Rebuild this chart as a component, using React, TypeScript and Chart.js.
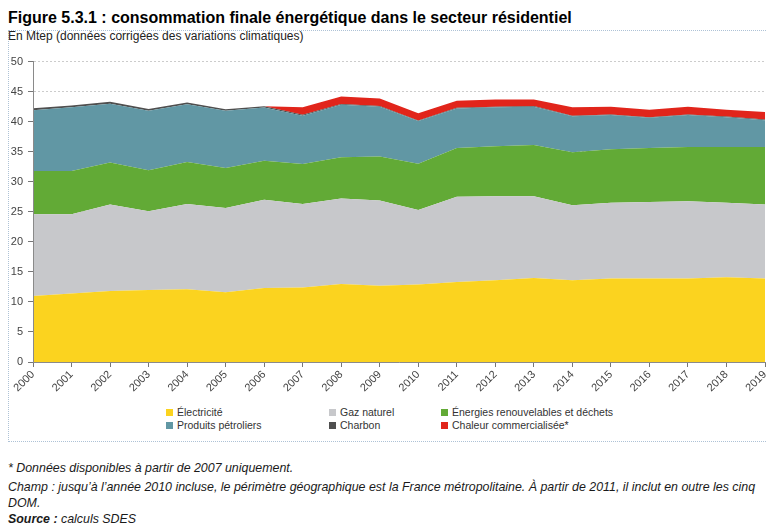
import React, { useEffect, useRef } from "react";
import { Chart, registerables } from "chart.js";

Chart.register(...registerables);

const years = ["2000", "2001", "2002", "2003", "2004", "2005", "2006", "2007", "2008", "2009", "2010", "2011", "2012", "2013", "2014", "2015", "2016", "2017", "2018", "2019"];
const electricite = [11.0, 11.4, 11.8, 12.0, 12.1, 11.6, 12.3, 12.4, 13.0, 12.7, 12.9, 13.3, 13.6, 14.0, 13.6, 13.9, 13.9, 13.9, 14.1, 13.9];
const gazNaturel = [13.6, 13.2, 14.4, 13.1, 14.2, 14.05, 14.7, 13.9, 14.2, 14.2, 12.4, 14.2, 14.0, 13.6, 12.5, 12.6, 12.75, 12.85, 12.4, 12.3];
const energiesRenouvelables = [7.2, 7.2, 7.0, 6.8, 7.0, 6.65, 6.5, 6.65, 6.9, 7.3, 7.7, 8.1, 8.3, 8.5, 8.8, 8.9, 8.95, 9.05, 9.3, 9.6];
const produitsPetroliers = [10.1, 10.6, 9.8, 9.9, 9.6, 9.5, 8.85, 8.05, 8.7, 8.3, 7.1, 6.6, 6.5, 6.4, 6.0, 5.7, 5.05, 5.3, 4.95, 4.45];
const charbon = [0.35, 0.3, 0.3, 0.3, 0.3, 0.25, 0.2, 0.15, 0.15, 0.1, 0.1, 0.1, 0.1, 0.1, 0.1, 0.1, 0.1, 0.1, 0.1, 0.1];
const chaleurCommercialisee = [0, 0, 0, 0, 0, 0, 0, 1.25, 1.25, 1.25, 1.2, 1.2, 1.2, 1.1, 1.4, 1.3, 1.25, 1.3, 1.15, 1.25];

const seriesNames = ["Électricité", "Gaz naturel", "Énergies renouvelables et déchets", "Produits pétroliers", "Charbon", "Chaleur commercialisée*"];
const seriesColors = ["#FBD31F", "#C7C8CB", "#62AA36", "#6197A4", "#4F4F4F", "#E1251B"];
const seriesValues = [electricite, gazNaturel, energiesRenouvelables, produitsPetroliers, charbon, chaleurCommercialisee];

const FONT = "'Liberation Sans', Arial, Helvetica, sans-serif";

export default function App() {
  const canvasRef = useRef<HTMLCanvasElement | null>(null);

  useEffect(() => {
    if (!canvasRef.current) return;
    const chart = new Chart(canvasRef.current, {
      type: "line",
      data: {
        labels: years,
        datasets: seriesValues.map((vals, i) => ({
          label: seriesNames[i],
          data: vals,
          backgroundColor: seriesColors[i],
          borderColor: "rgba(0,0,0,0)",
          borderWidth: 0,
          pointRadius: 0,
          pointHoverRadius: 0,
          tension: 0,
          fill: i === 0 ? "origin" : "-1",
        })),
      },
      options: {
        responsive: false,
        animation: false,
        events: [],
        layout: { padding: { top: 10, right: 1, left: 0, bottom: 0 } },
        plugins: {
          legend: { display: false },
          tooltip: { enabled: false },
        },
        scales: {
          x: {
            type: "category",
            grid: { drawOnChartArea: false, drawTicks: true, tickLength: 5, tickColor: "#777", color: "#777" },
            border: { display: true, color: "#8a8a8a", width: 1, z: 1 },
            ticks: {
              autoSkip: false,
              maxRotation: 45,
              minRotation: 45,
              padding: 1,
              color: "#444",
              font: { family: FONT, size: 11 },
            },
            afterFit: (s: any) => {
              s.height = 33;
              s.paddingLeft = 0;
              s.paddingRight = 0;
            },
          },
          y: {
            stacked: true,
            min: 0,
            max: 50,
            ticks: {
              stepSize: 5,
              padding: 5,
              color: "#444",
              font: { family: FONT, size: 11 },
            },
            grid: { color: "#cccccc", tickColor: "#777", tickLength: 5, lineWidth: 1 },
            border: { display: true, color: "#8a8a8a", width: 1, dash: [2, 2], z: 1 },
            afterFit: (s: any) => {
              s.width = 33;
            },
          },
        },
      },
    });
    return () => chart.destroy();
  }, []);

  const legendItem = (i: number, x: number, y: number) => (
    <div key={i} style={{ position: "absolute", left: x, top: y - 7, height: 14, display: "flex", alignItems: "center", whiteSpace: "nowrap" }}>
      <span style={{ display: "inline-block", width: 7, height: 7, background: seriesColors[i], marginRight: 4 }} />
      <span style={{ fontSize: 10.5, color: "#333", lineHeight: "14px" }}>{seriesNames[i]}</span>
    </div>
  );

  const footStyle: React.CSSProperties = {
    position: "absolute",
    left: 8,
    fontSize: 12.4,
    lineHeight: "16px",
    fontStyle: "italic",
    color: "#1a1a1a",
    whiteSpace: "nowrap",
  };

  return (
    <div style={{ position: "absolute", left: 0, top: 0, width: 766, height: 526, overflow: "hidden", background: "#fff", fontFamily: FONT }}>
      <div style={{ position: "absolute", left: 8, top: 30, width: 758, height: 412, borderTop: "1px dotted #aec2d6", borderLeft: "1px dotted #aec2d6", borderBottom: "1px dotted #aec2d6", boxSizing: "border-box" }} />
      <div style={{ position: "absolute", left: 8, top: 9, fontSize: 16, lineHeight: "18px", fontWeight: "bold", color: "#000", whiteSpace: "nowrap" }}>
        Figure 5.3.1 : consommation finale énergétique dans le secteur résidentiel
      </div>
      <div style={{ position: "absolute", left: 8, top: 29, fontSize: 12, lineHeight: "14px", color: "#222", whiteSpace: "nowrap" }}>
        En Mtep (données corrigées des variations climatiques)
      </div>
      <div style={{ position: "absolute", left: 0, top: 50, width: 766, height: 345 }}>
        <canvas ref={canvasRef} width={766} height={345} style={{ display: "block" }} />
      </div>
      {legendItem(0, 166, 412)}
      {legendItem(1, 329, 412)}
      {legendItem(2, 441, 412)}
      {legendItem(3, 166, 425)}
      {legendItem(4, 329, 425)}
      {legendItem(5, 441, 425)}
      <div style={{ ...footStyle, top: 460 }}>* Données disponibles à partir de 2007 uniquement.</div>
      <div style={{ ...footStyle, top: 479 }}>
        Champ : jusqu’à l’année 2010 incluse, le périmètre géographique est la France métropolitaine. À partir de 2011, il inclut en outre les cinq
      </div>
      <div style={{ ...footStyle, top: 495 }}>DOM.</div>
      <div style={{ ...footStyle, top: 511 }}>
        <b>Source :</b> calculs SDES
      </div>
    </div>
  );
}
